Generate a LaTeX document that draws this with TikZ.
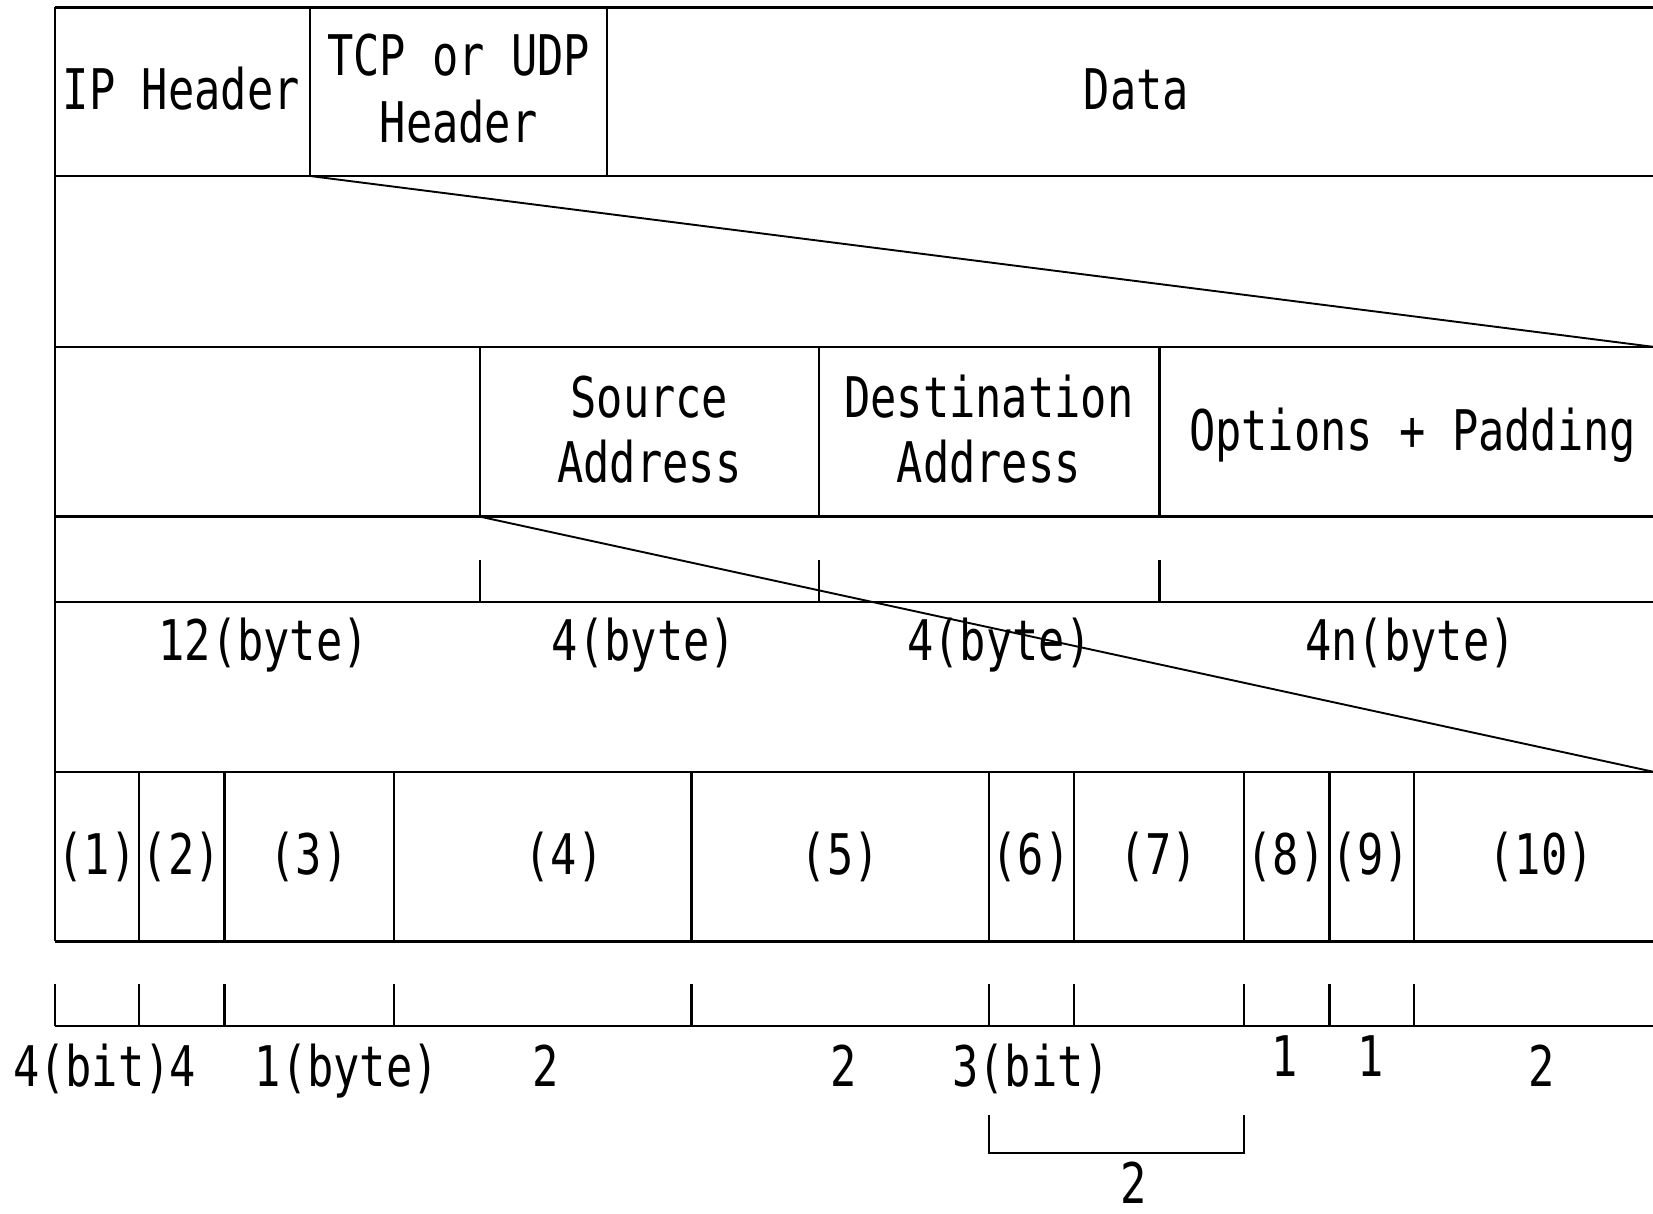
\documentclass[tikz,border=0pt]{standalone}
\usepackage{fontspec}
\newfontfamily\gothic[FakeStretch=0.78]{DejaVu Sans Mono}
\begin{document}
\begin{tikzpicture}[x=1pt,y=-1pt,
  rule/.style={line width=2.3pt},
  lbl/.style={font=\gothic\fontsize{56}{66}\selectfont, anchor=base, inner sep=0pt}]
\useasboundingbox (0,0) rectangle (1653,1214);
\clip (0,0) rectangle (1653,1214);

% row boundaries
\foreach \y in {7.4,176,346.8,516.6,602,771.7,941.4,1025.7}
  \draw[rule] (55,\y) -- (1653,\y);
\draw[rule] (55,7.4) -- (55,941.4);

% packet: IP header | TCP/UDP header | data
\foreach \x in {310,607}
  \draw[rule] (\x,7.4) -- (\x,176);
\node[lbl] (iph) at (181.3,109.6) {IP Header};
\node[lbl] (tcp1) at (458.6,75.9) {TCP or UDP};
\node[lbl] (tcp2) at (458.6,142.3) {Header};
\node[lbl] (data) at (1136.4,109.6) {Data};

% IP header fields
\foreach \x in {479.7,819.1,1159.6}{
  \draw[rule] (\x,346.8) -- (\x,516.6);
  \draw[rule] (\x,559.8) -- (\x,602);
}
\node[lbl] (src1) at (649.4,417.5) {Source};
\node[lbl] (src2) at (649.4,482.8) {Address};
\node[lbl] (dst1) at (988.8,417.5) {Destination};
\node[lbl] (dst2) at (988.8,482.8) {Address};
\node[lbl] (opt) at (1412.6,450) {Options + Padding};
\node[lbl] (s1) at (263.6,660) {12(byte)};
\node[lbl] (s2) at (644,660) {4(byte)};
\node[lbl] (s3) at (999.4,660) {4(byte)};
\node[lbl] (s4) at (1410.5,660) {4n(byte)};

% first 12 bytes broken into fields
\foreach \x in {139.2,224.5,394.3,691.6,988.8,1074.2,1244,1329.4,1413.7}
  \draw[rule] (\x,771.7) -- (\x,941.4);
\foreach \x in {55,139.2,224.5,394.3,691.6,988.8,1074.2,1244,1329.4,1413.7}
  \draw[rule] (\x,983.6) -- (\x,1025.7);
\foreach \t/\x in {(1)/97,(2)/181.3,(3)/308.9,(4)/564,(5)/840.2,(6)/1031,(7)/1158.6,(8)/1286.1,(9)/1370.5,(10)/1541.2}
  \node[lbl] at (\x,874) {\t};

\node[lbl] (b1) at (92,1086) {4(bit)};
\node[lbl] (b2) at (182.4,1086) {4};
\node[lbl] (b3) at (346.8,1086) {1(byte)};
\node[lbl] (b4) at (546.1,1086) {2};
\node[lbl] (b5) at (843.4,1086) {2};
\node[lbl] (b6) at (1031,1086) {3(bit)};
\node[lbl] (b7) at (1285,1076.5) {1};
\node[lbl] (b8) at (1370.5,1076.5) {1};
\node[lbl] (b9) at (1541.2,1086) {2};

% bracket joining fields (6) and (7)
\coordinate (bl) at (988.8,1115);
\coordinate (br) at (1244,1115);
\draw[rule] (bl) -- (988.8,1153.3) -- (1244,1153.3) -- (br);
\node[lbl] (b10) at (1133.3,1203) {2};

% expansion lines
\coordinate (tcpl) at (310,176);
\coordinate (ipr) at (1653,346.8);
\coordinate (srcl) at (479.7,516.6);
\coordinate (fr) at (1653,771.7);
\draw[line width=1.9pt] (tcpl) -- (ipr);
\draw[line width=1.9pt] (srcl) -- (fr);
\end{tikzpicture}
\end{document}
